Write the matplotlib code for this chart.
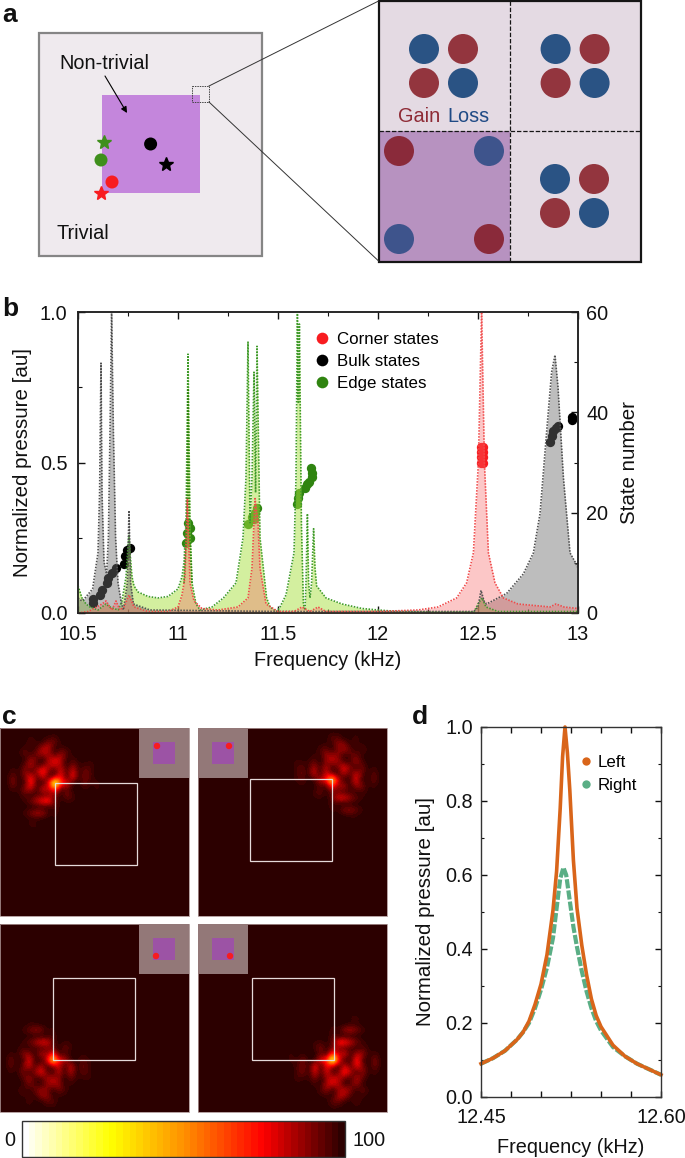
import numpy as np
import matplotlib
matplotlib.use('Agg')
import matplotlib.pyplot as plt
from matplotlib.patches import Rectangle, Circle
from matplotlib.colors import LinearSegmentedColormap, Normalize
from matplotlib.cm import ScalarMappable
from matplotlib.ticker import MultipleLocator

plt.rcParams['font.family'] = ['Liberation Sans', 'DejaVu Sans']

# panel b spectra
edge_f = [10.50, 10.52, 10.54, 10.56, 10.60, 10.64, 10.66, 10.70, 10.72, 10.74, 10.75, 10.755, 10.76, 10.77, 10.78,
          10.80, 10.85, 10.90, 10.95, 11.00, 11.02, 11.03, 11.04, 11.05, 11.06, 11.07, 11.09, 11.11, 11.17, 11.227,
          11.29, 11.325, 11.34, 11.35, 11.36, 11.37, 11.38, 11.388, 11.395, 11.41, 11.443, 11.46, 11.493, 11.51,
          11.54, 11.58, 11.59, 11.597, 11.602, 11.607, 11.617, 11.627, 11.635, 11.64, 11.647, 11.653, 11.66, 11.668,
          11.678, 11.685, 11.693, 11.74, 11.82, 11.92, 12.00, 12.10, 12.30, 12.48, 12.50, 12.52, 12.54, 12.60, 13.00]
edge_p = [0.09, 0.05, 0.03, 0.02, 0.01, 0.03, 0.02, 0.01, 0.04, 0.12, 0.22, 0.26, 0.20, 0.12, 0.09,
          0.07, 0.055, 0.05, 0.055, 0.08, 0.12, 0.17, 0.30, 0.86, 0.30, 0.10, 0.03, 0.01, 0.02, 0.05,
          0.10, 0.25, 0.45, 0.90, 0.30, 0.45, 0.80, 0.40, 0.886, 0.25, 0.05, 0.02, 0.005, 0.02,
          0.06, 0.20, 0.45, 1.00, 0.70, 0.96, 0.30, 0.03, 0.01, 0.10, 0.33, 0.10, 0.05, 0.10,
          0.28, 0.15, 0.09, 0.05, 0.03, 0.015, 0.01, 0.005, 0.003, 0.004, 0.03, 0.05, 0.02, 0.005, 0.005]
edge2_f = [11.03, 11.045, 11.05, 11.055, 11.07]
edge2_p = [0.10, 0.30, 0.745, 0.30, 0.10]

bulk_f = [10.50, 10.52, 10.535, 10.573, 10.60, 10.608, 10.615, 10.62, 10.63, 10.643, 10.652, 10.66, 10.668, 10.677,
          10.688, 10.70, 10.715, 10.727, 10.747, 10.755, 10.763, 10.777, 10.86, 11.50, 12.48, 12.50, 12.515, 12.53,
          12.543, 12.643, 12.727, 12.777, 12.81, 12.843, 12.868, 12.885, 12.90, 12.927, 12.96, 12.985, 13.00]
bulk_p = [0.05, 0.04, 0.05, 0.08, 0.20, 0.40, 0.83, 0.40, 0.17, 0.13, 0.25, 0.60, 1.00, 0.60,
          0.25, 0.10, 0.04, 0.01, 0.10, 0.34, 0.10, 0.03, 0.01, 0.005, 0.005, 0.02, 0.075, 0.04,
          0.03, 0.065, 0.13, 0.20, 0.33, 0.60, 0.80, 0.857, 0.75, 0.45, 0.20, 0.17, 0.15]

corner_f = [10.50, 10.55, 10.58, 10.62, 10.64, 10.67, 10.69, 10.71, 10.73, 10.755, 10.78, 10.85, 10.95, 11.00, 11.02,
            11.035, 11.047, 11.06, 11.08, 11.12, 11.20, 11.30, 11.35, 11.37, 11.385, 11.40, 11.41, 11.44, 11.50,
            11.58, 11.62, 11.66, 11.70, 11.74, 12.00, 12.20, 12.30, 12.393, 12.443, 12.477, 12.502, 12.518, 12.532,
            12.552, 12.585, 12.627, 12.70, 12.86, 12.89, 12.93, 13.00]
corner_p = [0.0, 0.005, 0.015, 0.03, 0.04, 0.01, 0.04, 0.01, 0.02, 0.06, 0.02, 0.005, 0.005, 0.02, 0.06,
            0.12, 0.38, 0.10, 0.04, 0.015, 0.01, 0.02, 0.05, 0.15, 0.38, 0.30, 0.15, 0.03, 0.005,
            0.005, 0.02, 0.005, 0.02, 0.005, 0.005, 0.01, 0.02, 0.05, 0.10, 0.20, 0.50, 1.00, 0.50,
            0.20, 0.10, 0.05, 0.03, 0.02, 0.03, 0.02, 0.015]

# state number against frequency
bulk_state_f = [10.573, 10.573, 10.61, 10.618, 10.643, 10.652, 10.668, 10.69, 10.73, 10.735, 10.747, 10.76,
                12.86, 12.868, 12.877, 12.89, 12.90, 12.968, 12.968]
bulk_state_n = [2.0, 2.7, 3.6, 4.6, 6, 7, 8, 9, 9.8, 11.3, 12.6, 13, 34, 35.3, 36.2, 36.8, 37.2, 38.5, 39]
edge_state_f = [11.04, 11.06, 11.045, 11.06, 11.05, 11.352, 11.368, 11.38, 11.385, 11.397,
                11.597, 11.602, 11.605, 11.635, 11.647, 11.657, 11.668, 11.668, 11.665]
edge_state_n = [14, 15, 16, 17, 18, 17.8, 19.2, 18.7, 19.9, 20.9,
                21.8, 22.9, 24, 24.9, 25.7, 26.2, 27.2, 28, 28.9]
corner_state_f = [12.514, 12.526, 12.514, 12.526, 12.514, 12.526, 12.514, 12.526]
corner_state_n = [30, 30, 31, 31, 32, 32, 33, 33]

# panel c, amplitude around the bright corner (corner at row 9, column 9)
corner_field = [
    [0, 0, 0, 0, 0, 0, 0, 10, 3, 10, 0, 0, 0, 0, 0, 0, 0, 0, 0],
    [0, 0, 0, 0, 0, 6, 0, 8, 2, 8, 0, 0, 0, 0, 0, 0, 0, 0, 0],
    [0, 0, 0, 0, 0, 18, 5, 0, 22, 22, 5, 0, 0, 0, 0, 0, 0, 0, 0],
    [0, 0, 0, 0, 12, 8, 10, 32, 34, 8, 10, 8, 0, 0, 0, 0, 0, 0, 0],
    [0, 0, 0, 8, 22, 4, 25, 36, 30, 0, 28, 18, 4, 0, 0, 0, 0, 0, 0],
    [0, 0, 0, 4, 2, 30, 18, 0, 32, 40, 36, 0, 14, 0, 0, 8, 0, 0, 0],
    [0, 0, 8, 0, 18, 36, 10, 20, 35, 38, 30, 0, 26, 10, 12, 14, 0, 5, 0],
    [8, 0, 14, 2, 30, 6, 32, 52, 25, 0, 42, 10, 42, 2, 24, 14, 0, 0, 0],
    [10, 0, 24, 2, 24, 46, 12, 40, 5, 30, 45, 4, 46, 0, 26, 14, 0, 0, 0],
    [8, 0, 26, 4, 10, 50, 14, 0, 42, 100, 50, 42, 8, 0, 24, 6, 14, 2, 6],
    [0, 0, 16, 4, 30, 36, 2, 42, 30, 55, 10, 20, 0, 0, 10, 0, 12, 0, 2],
    [0, 0, 0, 8, 16, 2, 16, 14, 26, 25, 0, 26, 12, 0, 0, 0, 0, 0, 0],
    [0, 0, 0, 0, 12, 22, 36, 48, 48, 20, 2, 12, 10, 4, 0, 0, 0, 0, 0],
    [0, 0, 0, 0, 2, 2, 0, 4, 4, 18, 0, 0, 0, 0, 0, 0, 0, 0, 0],
    [0, 0, 0, 0, 14, 24, 34, 30, 10, 14, 0, 10, 0, 0, 0, 0, 0, 0, 0],
    [0, 0, 0, 0, 0, 8, 6, 4, 0, 8, 0, 0, 0, 0, 0, 0, 0, 0, 0],
    [0, 0, 0, 0, 0, 14, 10, 0, 0, 10, 3, 0, 0, 0, 0, 0, 0, 0, 0],
    [0, 0, 0, 0, 0, 0, 6, 10, 0, 0, 0, 0, 0, 0, 0, 0, 0, 0, 0],
    [0, 0, 0, 0, 0, 0, 0, 0, 0, 0, 0, 0, 0, 0, 0, 0, 0, 0, 0],
]
colorbar_labels = ['0', '100']

# panel d
left_f = [12.45, 12.46, 12.47, 12.48, 12.485, 12.49, 12.495, 12.50, 12.505, 12.51, 12.513, 12.516, 12.518, 12.52,
          12.522, 12.524, 12.527, 12.53, 12.534, 12.538, 12.542, 12.546, 12.55, 12.56, 12.57, 12.58, 12.59, 12.60]
left_p = [0.09, 0.105, 0.125, 0.155, 0.175, 0.205, 0.25, 0.305, 0.385, 0.505, 0.61, 0.78, 0.92, 1.00,
          0.93, 0.83, 0.64, 0.51, 0.41, 0.33, 0.265, 0.22, 0.19, 0.14, 0.11, 0.09, 0.075, 0.06]
right_f = [12.45, 12.46, 12.47, 12.48, 12.485, 12.49, 12.495, 12.50, 12.505, 12.51, 12.513, 12.516, 12.5187,
           12.521, 12.524, 12.527, 12.53, 12.534, 12.538, 12.542, 12.546, 12.55, 12.56, 12.57, 12.58, 12.59, 12.60]
right_p = [0.09, 0.105, 0.125, 0.155, 0.175, 0.20, 0.24, 0.29, 0.35, 0.43, 0.51, 0.59, 0.62,
           0.60, 0.53, 0.46, 0.405, 0.34, 0.285, 0.24, 0.205, 0.18, 0.135, 0.11, 0.09, 0.075, 0.06]
d_xticks = [12.45, 12.475, 12.50, 12.525, 12.55, 12.575, 12.60]
d_xticklabels = ['12.45', '', '', '', '', '', '12.60']

W, H = 685, 1158
FS = 14.3
FINE_DOTS = (0, (0.9, 0.9))

fig = plt.figure(figsize=(W / 100, H / 100), dpi=100)


def px_axes(left, top, right, bottom):
    return fig.add_axes([left / W, 1 - bottom / H, (right - left) / W, (bottom - top) / H])


# pixel canvas for the schematic parts
bg = fig.add_axes([0, 0, 1, 1])
bg.axis('off')

for label, x, y in [('a', 2, 22), ('b', 2, 316), ('c', 2, 724), ('d', 412, 724)]:
    bg.text(x, y, label, fontsize=19, fontweight='bold', va='baseline', color='#111111')

# panel a, left square
bg.add_patch(Rectangle((39.5, 33), 222.5, 223, fc='#efeaee', ec='#858585', lw=1.6))
bg.add_patch(Rectangle((102, 95), 98, 98, fc='#c486dc', ec='none'))
bg.add_patch(Rectangle((192, 86), 17, 16, fc='none', ec='#444444', lw=0.7, ls=(0, (1.5, 1))))
bg.text(59, 69, 'Non-trivial', fontsize=FS, color='#111111')
bg.text(57, 239, 'Trivial', fontsize=FS, color='#111111')
bg.annotate('', xy=(127, 113), xytext=(105, 76),
            arrowprops=dict(arrowstyle='-|>', color='black', lw=0.8, mutation_scale=9, shrinkA=0, shrinkB=0))
bg.add_patch(Circle((150.6, 144), 6.5, fc='black', ec='none'))
bg.add_patch(Circle((101, 160), 6.5, fc='#3f8f1c', ec='none'))
bg.add_patch(Circle((112, 182), 6.5, fc='#f81c20', ec='none'))
bg.plot([104], [142], marker='*', ms=10, color='#3f8f1c', mew=1.0)
bg.plot([101], [193], marker='*', ms=10, color='#f81c20', mew=1.0)
bg.plot([166], [164], marker='*', ms=10, color='black', mew=1.0)

# zoom lines
bg.plot([209, 378.6], [86, 1], color='#333333', lw=0.7)
bg.plot([209, 378.6], [102, 261], color='#333333', lw=0.7)

# panel a, unit cells
bg.add_patch(Rectangle((378.6, 1), 262.4, 261, fc='#e4dae3', ec='none'))
bg.add_patch(Rectangle((378.6, 131), 131.4, 131, fc='#b792c0', ec='none'))
bg.add_patch(Rectangle((378.6, 1), 262.4, 261, fc='none', ec='#151515', lw=1.6))
bg.plot([510, 510], [1, 262], color='#151515', lw=0.9, ls=(0, (3.5, 1.5)))
bg.plot([378.6, 641], [131, 131], color='#151515', lw=0.9, ls=(0, (3.5, 1.5)))

RED, BLUE = '#93353e', '#2a5384'
for cx, cy in [(424, 49), (555.6, 49), (555, 179)]:
    bg.add_patch(Circle((cx, cy), 15, fc=BLUE, ec='none'))
    bg.add_patch(Circle((cx + 39, cy), 15, fc=RED, ec='none'))
    bg.add_patch(Circle((cx, cy + 34), 15, fc=RED, ec='none'))
    bg.add_patch(Circle((cx + 39, cy + 34), 15, fc=BLUE, ec='none'))
bg.add_patch(Circle((399, 151), 15, fc='#8a2a3a', ec='none'))
bg.add_patch(Circle((489, 151), 15, fc='#3e548c', ec='none'))
bg.add_patch(Circle((399, 239), 15, fc='#3e548c', ec='none'))
bg.add_patch(Circle((489, 239), 15, fc='#8a2a3a', ec='none'))
bg.text(398, 122, 'Gain', fontsize=FS, color='#8e2a35')
bg.text(447, 122, 'Loss', fontsize=FS, color='#1f4a85')

# panel c
heat_cmap = LinearSegmentedColormap.from_list(
    'heat', [(0, '#ffffff'), (0.27, '#ffff00'), (0.5, '#ff9000'), (0.75, '#ff0000'), (1, '#2c0000')], N=48)
heat_norm = Normalize(0, 100)
field = np.array(corner_field, dtype=float)

# left, top, right, bottom, corner x, corner y, flip x, flip y, gain, square, inset, dot
panels = [
    (0, 728, 189, 916, 55, 783, False, False, 1.0, (55, 783, 82, 82), (139, 728), (157, 746)),
    (198, 728, 387, 916, 332, 780, True, False, 0.85, (250, 779, 82, 82), (198, 728), (229, 746)),
    (0, 924, 189, 1112, 53, 1060, False, True, 0.85, (53, 978, 82, 82), (139, 924), (156, 956)),
    (198, 924, 387, 1112, 333, 1060, True, True, 1.0, (252, 978, 82, 82), (198, 924), (230, 956)),
]
for l, t, r, b, cx, cy, fx, fy, gain, sq, inset, dot in panels:
    bg.add_patch(Rectangle((l, t), r - l, b - t, fc='#2c0000', ec='none', zorder=1))
    z = field.copy()
    if fx:
        z = z[:, ::-1]
    if fy:
        z = z[::-1, :]
    bright = np.clip(gain * z / 100.0, 0, 1) ** 1.6
    im = bg.imshow(100 * (1 - bright), cmap=heat_cmap, norm=heat_norm, interpolation='bicubic', aspect='auto',
                   extent=(cx - 57, cx + 57, cy + 57, cy - 57), zorder=2)
    im.set_clip_path(Rectangle((l, t), r - l, b - t, transform=bg.transData))
    bg.add_patch(Rectangle((l, t), r - l, b - t, fc='none', ec='#a89090', lw=0.6, zorder=3))
    bg.add_patch(Rectangle((sq[0], sq[1]), sq[2], sq[3], fc='none', ec='#e6dada', lw=0.9, zorder=3))
    bg.add_patch(Rectangle(inset, 50, 50, fc='#937878', ec='none', zorder=3))
    bg.add_patch(Rectangle((inset[0] + 14, inset[1] + 14), 22, 22, fc='#9c53a5', ec='none', zorder=3))
    bg.add_patch(Circle(dot, 3.2, fc='#f81c20', ec='none', zorder=4))

bg.set_xlim(0, W)
bg.set_ylim(H, 0)

cax = px_axes(22, 1121, 345, 1157)
cb = fig.colorbar(ScalarMappable(norm=heat_norm, cmap=heat_cmap), cax=cax, orientation='horizontal')
cb.set_ticks([])
cb.outline.set_linewidth(1.0)
cb.outline.set_edgecolor('#333333')
bg.text(10, 1141, colorbar_labels[0], fontsize=FS, ha='center', va='center', color='#111111')
bg.text(369, 1141, colorbar_labels[1], fontsize=FS, ha='center', va='center', color='#111111')

# panel b, state numbers sit in the base axes so the spectra are drawn over them
ax_n = px_axes(78, 312, 578, 613)
ax_n.scatter(bulk_state_f, bulk_state_n, s=45, color='black', lw=0, clip_on=False, zorder=1)
ax_n.scatter(edge_state_f, edge_state_n, s=45, color='#2f8410', lw=0, zorder=1)
ax_n.scatter(corner_state_f, corner_state_n, s=45, color='#f81c20', lw=0, zorder=1)
ax_n.set_xlim(10.5, 13)
ax_n.set_ylim(0, 60)
ax_n.set_yticks([0, 20, 40, 60])
ax_n.yaxis.set_minor_locator(MultipleLocator(10))
ax_n.set_xticks([10.5, 11, 11.5, 12, 12.5, 13])
ax_n.set_xticklabels(['10.5', '11', '11.5', '12', '12.5', '13'])
ax_n.xaxis.set_minor_locator(MultipleLocator(0.25))
ax_n.set_xlabel('Frequency (kHz)', fontsize=FS, labelpad=5, color='#111111')

ax_p = ax_n.twinx()
ax_p.fill_between(edge_f, edge_p, color='#a8e040', alpha=0.5, lw=0)
ax_p.plot(edge_f, edge_p, color='#3f9a2a', lw=1.2, ls=FINE_DOTS)
ax_p.plot(edge2_f, edge2_p, color='#2f8410', lw=1.2, ls=FINE_DOTS)
ax_p.fill_between(bulk_f, bulk_p, color='#6e6e6e', alpha=0.45, lw=0)
ax_p.plot(bulk_f, bulk_p, color='#505050', lw=1.2, ls=FINE_DOTS)
ax_p.fill_between(corner_f, corner_p, color='#f86060', alpha=0.35, lw=0)
ax_p.plot(corner_f, corner_p, color='#f04a4a', lw=1.2, ls=FINE_DOTS)
ax_p.set_xlim(10.5, 13)
ax_p.set_ylim(0, 1)
ax_p.yaxis.tick_left()
ax_p.yaxis.set_label_position('left')
ax_p.set_yticks([0, 0.5, 1])
ax_p.set_yticklabels(['0.0', '0.5', '1.0'])
ax_p.yaxis.set_minor_locator(MultipleLocator(0.25))
ax_p.set_ylabel('Normalized pressure [au]', fontsize=14.8, labelpad=6, color='#111111')
ax_p.tick_params(axis='y', which='both', direction='in', labelsize=FS, colors='#111111', pad=7.5)
ax_p.tick_params(axis='y', which='major', length=5, width=1.0)
ax_p.tick_params(axis='y', which='minor', length=3, width=0.8)

# twinx moved these to the left, put them back
ax_n.yaxis.tick_right()
ax_n.yaxis.set_label_position('right')
ax_n.set_ylabel('State number', fontsize=14.8, labelpad=8, color='#111111')
ax_n.tick_params(axis='y', which='both', direction='in', labelsize=FS, colors='#111111', pad=6)
ax_n.tick_params(axis='x', which='both', direction='in', top=True, labelsize=FS, colors='#111111', pad=9)
ax_n.tick_params(axis='both', which='major', length=5, width=1.0)
ax_n.tick_params(axis='both', which='minor', length=3, width=0.8)
for sp in list(ax_n.spines.values()) + list(ax_p.spines.values()):
    sp.set_linewidth(1.1)
    sp.set_color('#222222')

hb = [plt.Line2D([], [], ls='', marker='o', ms=8.4, color=c, mec='none') for c in ['#f81c20', 'black', '#2f8410']]
ax_p.legend(hb, ['Corner states', 'Bulk states', 'Edge states'], frameon=False, fontsize=12.2, loc='upper left',
            bbox_to_anchor=((312 - 78) / 500, 1 - (332 - 312) / 301), borderpad=0, borderaxespad=0,
            handletextpad=0.3, labelspacing=0.4, handlelength=1.2)

# panel d
ax_d = px_axes(481, 727, 661, 1097)
ax_d.plot(right_f, right_p, color='#5aae85', lw=3.0, ls=(0, (2.2, 0.5)))
ax_d.plot(left_f, left_p, color='#d9651a', lw=2.6, clip_on=False)
ax_d.set_xlim(12.45, 12.60)
ax_d.set_ylim(0, 1)
ax_d.set_xticks(d_xticks)
ax_d.set_xticklabels(d_xticklabels)
ax_d.set_yticks([0, 0.2, 0.4, 0.6, 0.8, 1.0])
ax_d.yaxis.set_minor_locator(MultipleLocator(0.1))
ax_d.set_xlabel('Frequency (kHz)', fontsize=FS, labelpad=8, color='#111111')
ax_d.set_ylabel('Normalized pressure [au]', fontsize=14.8, labelpad=7, color='#111111')
ax_d.tick_params(axis='both', which='both', direction='in', top=True, right=True, labelsize=FS, colors='#111111')
ax_d.tick_params(axis='both', which='major', length=4, width=1.0, pad=6)
ax_d.tick_params(axis='x', which='major', pad=8)
ax_d.tick_params(axis='both', which='minor', length=2.5, width=0.8)
for sp in ax_d.spines.values():
    sp.set_linewidth(1.0)
    sp.set_color('#333333')
hd = [plt.Line2D([], [], ls='', marker='o', ms=6, color=c, mec='none') for c in ['#d9651a', '#5aae85']]
ax_d.legend(hd, ['Left', 'Right'], frameon=False, fontsize=12.2, loc='upper left',
            bbox_to_anchor=((578 - 481) / 180, 1 - (755 - 727) / 370), borderpad=0, borderaxespad=0,
            handletextpad=0.15, labelspacing=0.45, handlelength=1.0)

fig.savefig('out.png', dpi=100)
